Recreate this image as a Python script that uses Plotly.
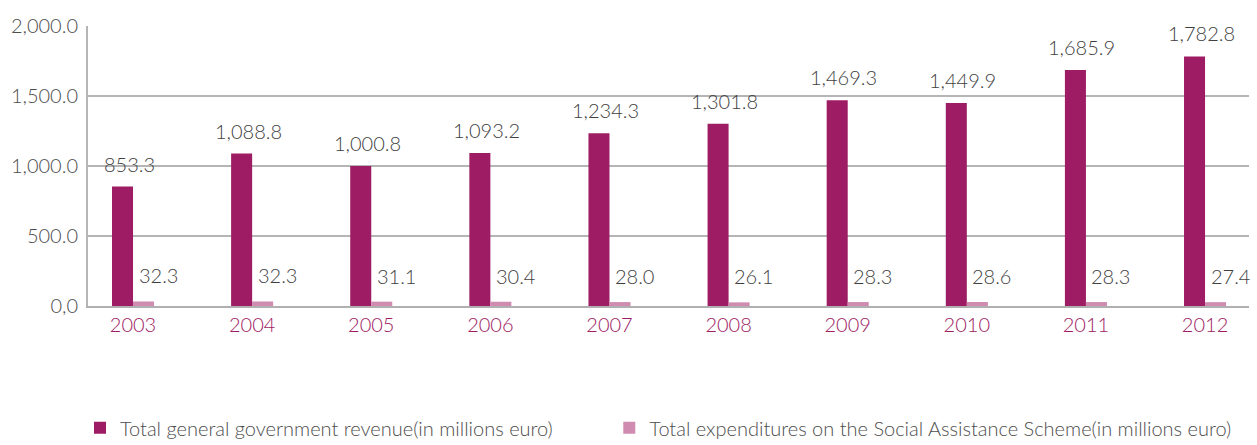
import plotly.graph_objects as go

years = ["2003", "2004", "2005", "2006", "2007", "2008", "2009", "2010", "2011", "2012"]
revenue = [853.3, 1088.8, 1000.8, 1093.2, 1234.3, 1301.8, 1469.3, 1449.9, 1685.9, 1782.8]
expenditure = [32.3, 32.3, 31.1, 30.4, 28.0, 26.1, 28.3, 28.6, 28.3, 27.4]
revenue_labels = ["853.3", "1,088.8", "1,000.8", "1,093.2", "1,234.3", "1,301.8", "1,469.3", "1,449.9", "1,685.9", "1,782.8"]
expenditure_labels = ["32.3", "32.3", "31.1", "30.4", "28.0", "26.1", "28.3", "28.6", "28.3", "27.4"]
ytick_vals = [0, 500, 1000, 1500, 2000]
ytick_text = ["0,0", "500.0", "1,000.0", "1,500.0", "2,000.0"]

name_rev = "Total general government revenue(in millions euro)"
name_exp = "Total expenditures on the Social Assistance Scheme(in millions euro)"

C_REV = "#9e1c63"
C_EXP = "#d08bb0"
FONT = "Lato"
TXT = "#3f3f3f"
W = 300

fig = go.Figure()
fig.add_trace(go.Bar(x=years, y=revenue, name=name_rev, marker_color=C_REV, marker_line_width=0,
                     legend="legend"))
fig.add_trace(go.Bar(x=years, y=expenditure, name=name_exp, marker_color=C_EXP, marker_line_width=0,
                     legend="legend2"))

for i in range(len(years)):
    fig.add_annotation(x=i, y=revenue[i], text=revenue_labels[i], showarrow=False,
                       xref="x", yref="y", yanchor="bottom", xshift=-4, yshift=9,
                       font=dict(family=FONT, size=20, color=TXT, weight=W))
    fig.add_annotation(x=i, y=expenditure[i], text=expenditure_labels[i], showarrow=False,
                       xref="x", yref="y", yanchor="bottom", xshift=25, yshift=12,
                       font=dict(family=FONT, size=20, color=TXT, weight=W))

legend_common = dict(orientation="h", xanchor="left", y=-0.365, yanchor="top",
                     font=dict(family=FONT, size=20, color="#4d4d4d", weight=W),
                     bgcolor="rgba(0,0,0,0)")

fig.update_layout(
    width=1257, height=445,
    margin=dict(l=88, r=8, t=26, b=139, autoexpand=False),
    plot_bgcolor="white", paper_bgcolor="white",
    barmode="group", bargap=0.647, bargroupgap=0,
    font=dict(family=FONT, size=20, color="#4d4d4d", weight=W),
    showlegend=True,
    legend=dict(x=-0.0069, **legend_common),
    legend2=dict(x=0.449, **legend_common),
    xaxis=dict(type="category", range=[-0.378, 9.369], showgrid=False, showline=True,
               linecolor="#b0b0b0", linewidth=2, ticks="",
               tickfont=dict(family=FONT, size=20, color=C_REV, weight=W)),
    yaxis=dict(range=[0, 2000], tickvals=ytick_vals, ticktext=ytick_text,
               showgrid=True, gridcolor="#b5b5b5", gridwidth=2, zeroline=False,
               showline=True, linecolor="#b5b5b5", linewidth=2, ticks="",
               ticklabelstandoff=4,
               tickfont=dict(family=FONT, size=20, color="#4d4d4d", weight=W)),
)

fig.write_html("out.html")
